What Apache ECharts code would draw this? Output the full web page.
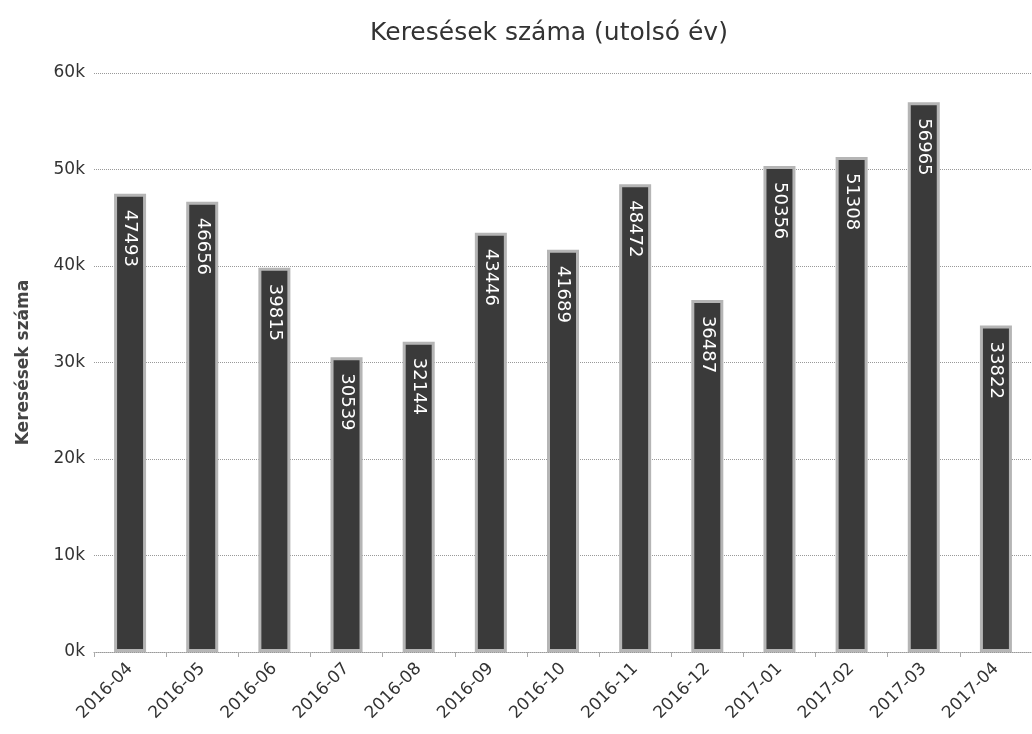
<!DOCTYPE html>
<html><head><meta charset="utf-8">
<script src="https://cdn.jsdelivr.net/npm/echarts@6/dist/echarts.min.js"></script>
<style>html,body{margin:0;padding:0;background:#fff}#c{width:1032px;height:734px}</style>
</head><body><div id="c"></div>
<script>
const categories = ['2016-04','2016-05','2016-06','2016-07','2016-08','2016-09','2016-10','2016-11','2016-12','2017-01','2017-02','2017-03','2017-04'];
const searches = [47493, 46656, 39815, 30539, 32144, 43446, 41689, 48472, 36487, 50356, 51308, 56965, 33822];
const yTicks = [0, 10000, 20000, 30000, 40000, 50000, 60000];

const chart = echarts.init(document.getElementById('c'));
chart.setOption({
  backgroundColor: '#fff',
  animation: false,
  title: {
    text: 'Keresések száma (utolsó év)',
    left: 544, top: 16, textAlign: 'center',
    textStyle: { fontFamily: 'DejaVu Sans', fontSize: 25, fontWeight: 'normal', color: '#333' }
  },
  grid: { left: 94, top: 73, width: 944, height: 579 },
  xAxis: {
    type: 'category', data: categories,
    axisLine: { lineStyle: { color: '#999', type: 'dotted' } },
    axisTick: { show: true, lineStyle: { color: '#aaa' }, length: 5 },
    axisLabel: { rotate: 45, fontFamily: 'DejaVu Sans', fontSize: 17, color: '#333', margin: 14 }
  },
  yAxis: {
    type: 'value', min: 0, max: 60000, interval: 10000,
    name: 'Keresések száma', nameLocation: 'middle', nameGap: 62, nameRotate: 90,
    nameTextStyle: { fontFamily: 'DejaVu Sans', fontSize: 17, fontWeight: 'bold', color: '#444' },
    axisLine: { show: false }, axisTick: { show: false },
    axisLabel: { fontFamily: 'DejaVu Sans', fontSize: 17, color: '#333', margin: 9,
      formatter: v => yTicks.includes(v) ? (v / 1000) + 'k' : '' },
    splitLine: { lineStyle: { color: '#999', type: 'dotted', width: 1 } }
  },
  series: [{
    type: 'bar', data: searches, barWidth: 32,
    itemStyle: { color: '#3a3a3a', borderColor: '#b5b5b5', borderWidth: 3 },
    label: {
      show: true, position: 'insideTop', rotate: -90, align: 'left', verticalAlign: 'middle',
      distance: 16, fontFamily: 'DejaVu Sans', fontSize: 18, color: '#fff'
    }
  }]
});
</script></body></html>
